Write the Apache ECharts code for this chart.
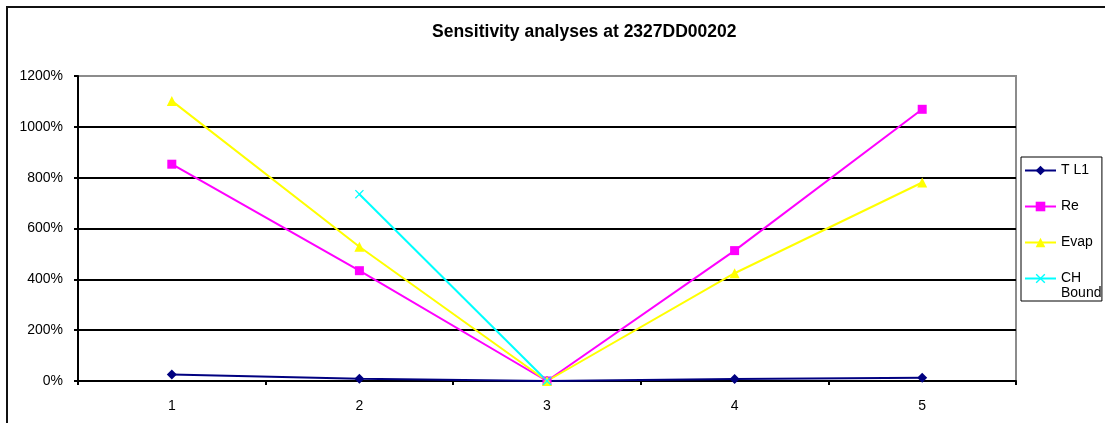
<!DOCTYPE html>
<html>
<head>
<meta charset="utf-8">
<script src="https://cdn.jsdelivr.net/npm/echarts@6/dist/echarts.min.js"></script>
<style>
  html, body { margin: 0; padding: 0; background: #fff; }
  #chart { width: 1105px; height: 423px; }
</style>
</head>
<body>
<div id="chart"></div>
<script>
// Scenario numbers along the x axis
const categories = ['1', '2', '3', '4', '5'];

// Sensitivity values, in percent
const tl1Values     = [26, 9, 0, 8, 13];
const reValues      = [853, 434, 0, 513, 1069];
const evapValues    = [1102, 528, 0, 424, 781];
const chBoundValues = [null, 735, 0, null, null];

// Y axis range and step, in percent
const yMin = 0;
const yMax = 1200;
const yStep = 200;

const chart = echarts.init(document.getElementById('chart'), null, { renderer: 'canvas' });

const font = 'Arial, "Liberation Sans", sans-serif';
const crossPath = 'path://M0,1 L1,0 L5,4 L9,0 L10,1 L6,5 L10,9 L9,10 L5,6 L1,10 L0,9 L4,5 Z';

function lineSeries(name, data, color, symbol, size) {
  return {
    name: name,
    type: 'line',
    data: data,
    symbol: symbol,
    symbolSize: size,
    showAllSymbol: true,
    connectNulls: false,
    lineStyle: { color: color, width: 2 },
    itemStyle: { color: color, borderWidth: 0 },
    emphasis: { disabled: true },
    animation: false
  };
}

chart.setOption({
  backgroundColor: '#ffffff',
  animation: false,
  textStyle: { fontFamily: font },
  title: {
    text: 'Sensitivity analyses at 2327DD00202',
    left: 432,
    top: 23,
    padding: 0,
    textStyle: { fontFamily: font, fontSize: 17.5, fontWeight: 'bold', color: '#000' }
  },
  graphic: [
    {
      // outer chart frame
      type: 'rect',
      shape: { x: 7, y: 7, width: 1200, height: 600 },
      style: { fill: 'none', stroke: '#111', lineWidth: 2 },
      silent: true,
      z: 100
    },
    {
      // second line of the "CH Bound" legend entry
      type: 'text',
      left: 1061,
      top: 286,
      style: { text: 'Bound', font: '14px ' + font, fill: '#000' },
      silent: true,
      z: 110
    }
  ],
  legend: {
    orient: 'vertical',
    left: 1021,
    top: 157,
    padding: [6.5, 9, 15.5, 3],
    itemWidth: 31,
    itemHeight: 12,
    itemGap: 22,
    borderColor: '#000',
    borderWidth: 1,
    backgroundColor: '#fff',
    selectedMode: false,
    textStyle: { fontFamily: font, fontSize: 14, color: '#000' },
    formatter: function (name) { return name === 'CH Bound' ? 'CH' : name; },
    data: ['T L1', 'Re', 'Evap', 'CH Bound']
  },
  grid: {
    left: 78,
    top: 76,
    width: 938,
    height: 305,
    show: true,
    backgroundColor: '#fff',
    borderColor: '#8c8c8c',
    borderWidth: 2
  },
  xAxis: {
    type: 'category',
    data: categories,
    boundaryGap: true,
    axisLine: { show: true, lineStyle: { color: '#000', width: 2 } },
    axisTick: { show: true, length: 4, lineStyle: { color: '#000', width: 2 } },
    axisLabel: { margin: 18, fontFamily: font, fontSize: 14, color: '#000' },
    splitLine: { show: false }
  },
  yAxis: {
    type: 'value',
    min: yMin,
    max: yMax,
    interval: yStep,
    axisLine: { show: true, lineStyle: { color: '#000', width: 2 } },
    axisTick: { show: true, length: 4, lineStyle: { color: '#000', width: 2 } },
    axisLabel: {
      margin: 15, fontFamily: font, fontSize: 14, color: '#000',
      formatter: function (v) { return v + '%'; }
    },
    splitLine: {
      show: true,
      lineStyle: { color: ['#000', '#000', '#000', '#000', '#000', '#000', '#8c8c8c'], width: 2 }
    }
  },
  series: [
    lineSeries('T L1', tl1Values, '#000080', 'diamond', 10),
    lineSeries('Re', reValues, '#ff00ff', 'rect', 9),
    lineSeries('Evap', evapValues, '#ffff00', 'triangle', 10),
    lineSeries('CH Bound', chBoundValues, '#00ffff', crossPath, 9)
  ]
});
</script>
</body>
</html>
